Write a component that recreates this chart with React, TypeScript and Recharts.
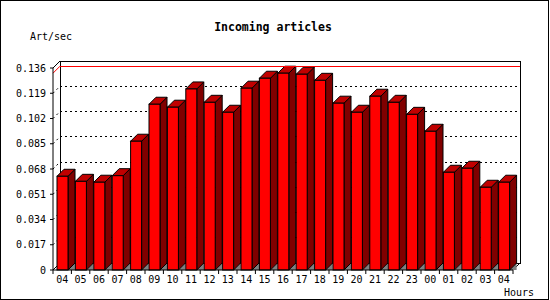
import React from "react";
import {
  BarChart,
  Bar,
  XAxis,
  YAxis,
  CartesianGrid,
  ReferenceLine,
} from "recharts";

const hours = [
  "04", "05", "06", "07", "08", "09", "10", "11", "12", "13", "14", "15", "16",
  "17", "18", "19", "20", "21", "22", "23", "00", "01", "02", "03", "04",
];
const artPerSec = [
  0.0631, 0.0597, 0.0591, 0.0635, 0.0867, 0.1116, 0.1096, 0.1219, 0.1129,
  0.1062, 0.1224, 0.1291, 0.1325, 0.1318, 0.1277, 0.1123, 0.1062, 0.117,
  0.1129, 0.1048, 0.0934, 0.0658, 0.0685, 0.0557, 0.0591,
];
const yTicks = [0, 0.017, 0.034, 0.051, 0.068, 0.085, 0.102, 0.119, 0.136];

const data = hours.map((hour, i) => ({ hour, rate: artPerSec[i] }));
const maxRate = Math.max(...artPerSec);

// layout
const W = 550;
const H = 300;
const LEFT = 53;
const RIGHT = 513;
const TOP = 68;
const BOTTOM = 270;
const D = 7; // 3d depth
const BAND = (RIGHT - LEFT) / hours.length;
const MONO = "'DejaVu Sans Mono', 'Liberation Mono', monospace";

function Bar3D(props: any) {
  const { x, y, width: w, height: h } = props;
  if (h == null || h <= 0) return null;
  const r = x + w;
  const b = y + h;
  return (
    <g stroke="#000" strokeWidth={1}>
      <polygon points={`${r},${b} ${r + D},${b} ${r + D},${b - D}`} fill="#808080" stroke="none" />
      <polygon points={`${r},${y} ${r + D},${y - D} ${r + D},${b - D} ${r},${b}`} fill="#800000" />
      <polygon points={`${x},${y} ${x + D},${y - D} ${r + D},${y - D} ${r},${y}`} fill="#c00000" />
      <rect x={x} y={y} width={w} height={h} fill="#ff0000" />
    </g>
  );
}

function gridLine(p: any) {
  const { x1, x2, y1 } = p;
  if (Math.abs(y1 - TOP) < 1 || Math.abs(y1 - BOTTOM) < 1) return <g key={p.key ?? p.index} />;
  return (
    <g key={p.key ?? p.index} stroke="#000" strokeDasharray="2 3" shapeRendering="crispEdges">
      <line x1={x1 + D} y1={y1 - D} x2={x2 + D} y2={y1 - D} />
      <line x1={x1} y1={y1} x2={x1 + D} y2={y1 - D} shapeRendering="auto" />
    </g>
  );
}

function maxLine(p: any) {
  const { x1, x2, y1 } = p;
  return (
    <g stroke="#ff0000">
      <line x1={x1 + D} y1={y1 - D} x2={x2 + D} y2={y1 - D} shapeRendering="crispEdges" />
      <line x1={x1} y1={y1} x2={x1 + D} y2={y1 - D} />
    </g>
  );
}

function HourTick(p: any) {
  const { x, index } = p;
  const last = index === hours.length - 1;
  return (
    <g>
      <line x1={x - BAND / 2} y1={BOTTOM} x2={x - BAND / 2} y2={BOTTOM + 4} stroke="#000" />
      {last && <line x1={x + BAND / 2} y1={BOTTOM} x2={x + BAND / 2} y2={BOTTOM + 4} stroke="#000" />}
      <text x={x} y={BOTTOM + 13} textAnchor="middle" fontFamily={MONO} fontSize={10} fill="#000">
        {p.payload.value}
      </text>
    </g>
  );
}

function RateTick(p: any) {
  const { y, payload } = p;
  const v = payload.value;
  return (
    <g>
      <line x1={LEFT - 3} y1={y} x2={LEFT} y2={y} stroke="#000" />
      <text x={46} y={y + 3.5} textAnchor="end" fontFamily={MONO} fontSize={10} fill="#000">
        {v === 0 ? "0" : v.toFixed(3)}
      </text>
    </g>
  );
}

export default function App() {
  return (
    <div style={{ position: "relative", width: W, height: H, background: "#fff" }}>
      <style>{"body{margin:0}"}</style>
      <svg width={W} height={H} style={{ position: "absolute", left: 0, top: 0 }}>
        <rect x={0.5} y={0.5} width={W - 2} height={H - 1} fill="#fff" stroke="#000" />
        <text x={273} y={31} textAnchor="middle" fontFamily={MONO} fontWeight="bold" fontSize={11.5} fill="#000">
          Incoming articles
        </text>
        <text x={30} y={40} fontFamily={MONO} fontSize={10} fill="#000">Art/sec</text>
        <text x={504} y={296} fontFamily={MONO} fontSize={10} fill="#000">Hours</text>
        <g stroke="#000" fill="none">
          <rect x={LEFT + D + 0.5} y={TOP - D + 0.5} width={RIGHT - LEFT} height={BOTTOM - TOP} shapeRendering="crispEdges" />
          <line x1={LEFT} y1={TOP} x2={LEFT + D} y2={TOP - D} />
          <line x1={LEFT} y1={BOTTOM} x2={LEFT + D} y2={BOTTOM - D} />
          <line x1={RIGHT} y1={BOTTOM} x2={RIGHT + D} y2={BOTTOM - D} />
        </g>
      </svg>
      <div style={{ position: "absolute", left: 0, top: 0 }}>
        <BarChart
          width={W}
          height={H}
          data={data}
          margin={{ top: TOP, right: W - RIGHT, bottom: 0, left: 8 }}
        >
          <CartesianGrid vertical={false} horizontal={gridLine} />
          <XAxis
            dataKey="hour"
            height={H - BOTTOM}
            interval={0}
            tick={HourTick}
            tickLine={false}
            axisLine={{ stroke: "#000" }}
          />
          <YAxis
            width={LEFT - 8}
            domain={[0, 0.136]}
            ticks={yTicks}
            interval={0}
            tick={RateTick}
            tickLine={false}
            axisLine={{ stroke: "#000" }}
          />
          <ReferenceLine y={maxRate} shape={maxLine} />
          <Bar dataKey="rate" barSize={11} shape={Bar3D} isAnimationActive={false} />
        </BarChart>
      </div>
    </div>
  );
}
